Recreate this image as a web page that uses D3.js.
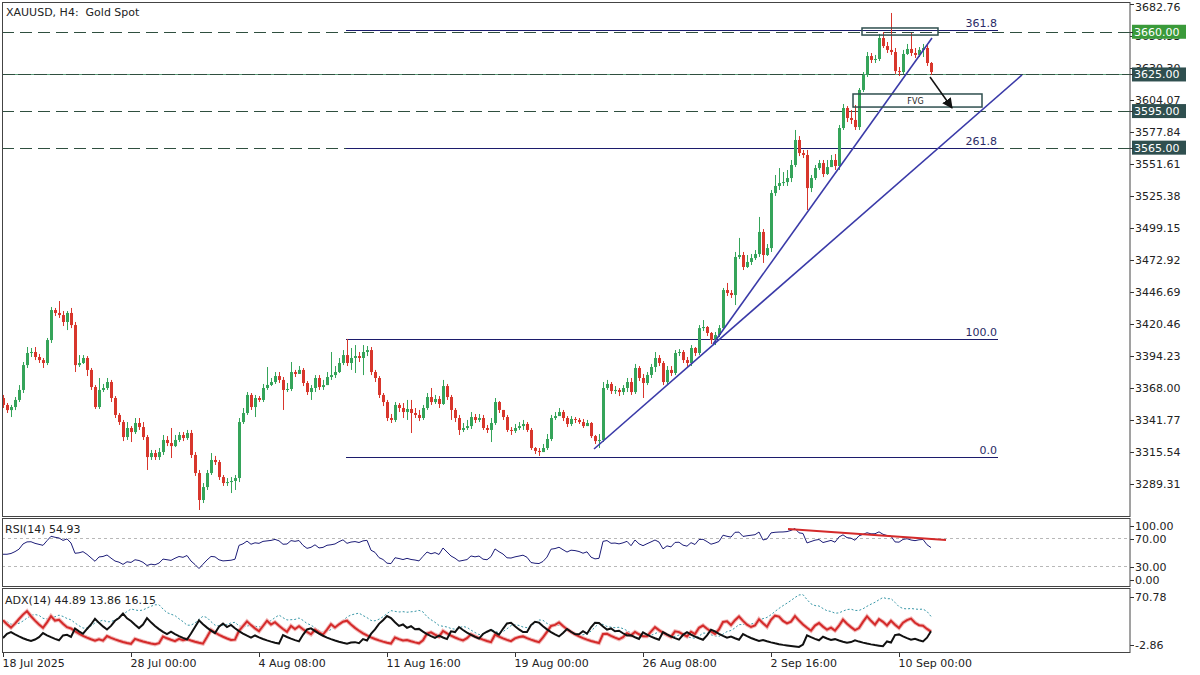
<!DOCTYPE html>
<html>
  <head>
    <title>XAUUSD H4</title>
    <script src="https://d3js.org/d3.v7.min.js"></script>
    <style>
      body { margin: 0; background: #fff; }
      svg text { font-family: "DejaVu Sans", sans-serif; font-size: 11px; fill: #222; }
    </style>
  </head>
  <body>
    <div id="chart"></div>
    <script>
      // ---- data (H4 bars from 18 Jul 16:00 to 11 Sep 08:00) ----
      const firstOpen = 3359.8;
      const closes = [
        3354.1, 3349.9, 3352.4, 3358.2, 3366.4, 3386.8, 3396.7, 3397.5, 3393.4, 3390.9,
        3388.5, 3407.3, 3431.9, 3429.5, 3427.8, 3422.1, 3429.5, 3419.6, 3386.8, 3388.5,
        3392.6, 3382.8, 3368.8, 3352.4, 3366.4, 3368.0, 3372.9, 3359.8, 3345.9, 3340.1,
        3327.8, 3335.2, 3331.9, 3339.3, 3336.0, 3327.8, 3311.4, 3314.7, 3311.4, 3315.5,
        3325.4, 3322.9, 3320.4, 3325.4, 3329.5, 3327.0, 3331.1, 3313.1, 3298.3, 3276.2,
        3286.8, 3298.3, 3309.0, 3307.3, 3295.0, 3290.1, 3290.9, 3291.8, 3294.2, 3340.1,
        3347.5, 3362.3, 3352.4, 3359.8, 3358.2, 3368.0, 3370.5, 3372.9, 3377.8, 3374.6,
        3366.4, 3367.2, 3381.1, 3379.5, 3382.8, 3372.1, 3364.7, 3368.0, 3376.2, 3368.8,
        3370.4, 3377.0, 3378.6, 3381.1, 3388.5, 3395.0, 3388.5, 3392.6, 3394.2, 3392.6,
        3397.5, 3399.1, 3381.1, 3376.2, 3362.3, 3356.5, 3343.4, 3341.8, 3354.1, 3351.6,
        3348.3, 3350.8, 3347.5, 3345.9, 3343.4, 3351.6, 3360.6, 3356.5, 3359.0, 3354.9,
        3369.6, 3360.6, 3350.0, 3343.4, 3333.6, 3335.2, 3336.8, 3344.2, 3341.8, 3343.4,
        3335.2, 3333.6, 3339.3, 3356.5, 3350.0, 3344.2, 3333.6, 3332.8, 3335.2, 3336.8,
        3338.5, 3333.6, 3318.8, 3316.4, 3315.5, 3318.8, 3326.2, 3343.4, 3345.0, 3348.3,
        3343.4, 3338.5, 3342.6, 3341.8, 3340.1, 3336.8, 3339.3, 3328.6, 3324.5, 3325.4,
        3368.0, 3371.3, 3365.5, 3366.4, 3364.7, 3368.0, 3372.9, 3364.7, 3384.4, 3376.2,
        3372.1, 3378.7, 3385.2, 3392.6, 3388.5, 3372.9, 3382.8, 3380.3, 3396.7, 3397.5,
        3390.9, 3388.5, 3400.8, 3396.7, 3417.1, 3418.0, 3413.1, 3407.3, 3411.4, 3417.1,
        3448.3, 3445.9, 3444.2, 3475.4, 3477.0, 3467.2, 3471.3, 3474.5, 3477.8, 3495.9,
        3477.0, 3482.7, 3527.8, 3533.6, 3536.0, 3536.8, 3540.1, 3550.8, 3571.3, 3560.6,
        3559.0, 3531.9, 3540.1, 3548.3, 3552.4, 3543.4, 3549.1, 3554.9, 3550.0, 3581.1,
        3597.5, 3589.3, 3587.7, 3581.9, 3612.3, 3624.6, 3640.1, 3636.9, 3637.7, 3654.9,
        3648.3, 3645.1, 3643.4, 3627.8, 3627.0, 3641.8, 3645.9, 3642.6, 3641.0, 3645.1,
        3646.7, 3634.4, 3627.0
      ];
      const highs = [
        3362.3, 3355.7, 3354.1, 3360.6, 3370.4, 3389.3, 3401.6, 3400.8, 3401.6, 3395.9,
        3392.6, 3409.0, 3434.4, 3433.6, 3439.3, 3431.1, 3431.1, 3433.6, 3422.1, 3395.0,
        3395.0, 3394.2, 3384.4, 3370.4, 3376.2, 3371.3, 3376.2, 3374.6, 3361.4, 3347.5,
        3341.8, 3340.1, 3336.8, 3343.4, 3343.4, 3340.1, 3329.5, 3317.2, 3317.2, 3318.8,
        3329.5, 3328.6, 3335.2, 3329.5, 3331.9, 3331.9, 3333.6, 3333.6, 3315.5, 3300.8,
        3290.1, 3300.8, 3314.7, 3312.3, 3309.0, 3296.7, 3294.2, 3295.0, 3296.7, 3343.4,
        3351.6, 3364.7, 3363.9, 3362.3, 3361.4, 3371.3, 3385.2, 3376.2, 3381.1, 3381.1,
        3377.0, 3372.1, 3389.3, 3382.8, 3386.0, 3384.4, 3373.7, 3370.4, 3378.6, 3378.6,
        3374.6, 3381.1, 3397.5, 3386.0, 3392.6, 3399.1, 3408.2, 3400.8, 3403.2, 3397.5,
        3403.2, 3402.4, 3401.6, 3382.8, 3377.8, 3363.9, 3358.2, 3346.7, 3356.5, 3355.7,
        3355.7, 3358.2, 3358.2, 3351.6, 3350.0, 3354.1, 3363.9, 3368.0, 3362.3, 3361.4,
        3374.6, 3371.3, 3362.3, 3351.6, 3345.9, 3339.3, 3341.8, 3348.3, 3346.7, 3346.7,
        3345.9, 3337.7, 3343.4, 3359.8, 3357.3, 3350.0, 3345.9, 3336.0, 3338.5, 3340.1,
        3341.8, 3340.1, 3335.2, 3319.6, 3318.8, 3322.1, 3330.3, 3345.9, 3348.3, 3351.6,
        3350.0, 3345.0, 3345.0, 3344.2, 3343.4, 3342.6, 3341.8, 3340.1, 3329.5, 3330.3,
        3372.9, 3374.6, 3372.9, 3369.6, 3368.0, 3370.4, 3376.2, 3376.2, 3387.7, 3386.0,
        3379.5, 3381.1, 3387.7, 3397.5, 3395.0, 3390.1, 3386.0, 3386.0, 3399.1, 3399.9,
        3399.1, 3393.4, 3403.2, 3401.6, 3419.6, 3423.7, 3418.8, 3413.9, 3413.9, 3419.6,
        3450.0, 3454.1, 3448.3, 3479.5, 3491.0, 3479.5, 3477.0, 3477.8, 3481.1, 3508.2,
        3498.3, 3486.0, 3530.3, 3542.6, 3548.3, 3545.0, 3546.7, 3554.9, 3579.5, 3574.5,
        3563.1, 3563.1, 3542.6, 3550.8, 3554.9, 3554.9, 3554.9, 3559.0, 3559.8, 3583.6,
        3600.8, 3599.1, 3595.9, 3600.0, 3613.9, 3627.0, 3643.4, 3642.6, 3641.0, 3658.2,
        3659.8, 3651.6, 3675.4, 3646.7, 3631.1, 3645.1, 3650.0, 3659.0, 3646.7, 3647.5,
        3650.0, 3649.1, 3635.2
      ];
      const lows = [
        3351.6, 3347.5, 3344.2, 3349.9, 3356.5, 3363.9, 3384.4, 3393.4, 3390.9, 3388.5,
        3384.4, 3386.8, 3404.9, 3427.0, 3425.4, 3418.8, 3415.5, 3417.1, 3381.1, 3385.2,
        3387.7, 3377.8, 3366.4, 3350.8, 3350.8, 3364.7, 3366.4, 3356.5, 3343.4, 3337.7,
        3324.5, 3325.4, 3323.7, 3330.3, 3333.6, 3325.4, 3300.8, 3309.0, 3309.0, 3309.0,
        3313.1, 3320.4, 3310.6, 3319.6, 3323.7, 3324.5, 3325.4, 3310.6, 3295.9, 3268.0,
        3273.7, 3284.4, 3296.7, 3304.9, 3292.6, 3287.7, 3287.7, 3281.9, 3284.4, 3290.9,
        3338.5, 3345.9, 3350.0, 3344.2, 3356.5, 3356.5, 3366.4, 3369.6, 3371.3, 3372.1,
        3350.0, 3364.7, 3365.5, 3377.0, 3379.5, 3369.6, 3362.3, 3358.2, 3364.7, 3366.4,
        3366.4, 3370.4, 3374.6, 3376.2, 3380.3, 3386.8, 3386.0, 3382.8, 3380.3, 3389.3,
        3378.6, 3394.2, 3378.6, 3372.9, 3359.8, 3353.2, 3340.9, 3339.3, 3340.1, 3348.3,
        3343.4, 3341.8, 3331.1, 3343.4, 3340.9, 3341.8, 3350.0, 3354.1, 3354.9, 3351.6,
        3354.1, 3358.2, 3341.8, 3340.1, 3329.5, 3331.9, 3333.6, 3334.4, 3339.3, 3340.1,
        3333.6, 3331.1, 3323.7, 3337.7, 3347.5, 3341.8, 3331.9, 3329.5, 3331.1, 3333.6,
        3333.6, 3331.9, 3317.2, 3313.9, 3312.3, 3315.5, 3317.2, 3324.5, 3341.8, 3345.0,
        3340.9, 3336.0, 3336.8, 3339.3, 3338.5, 3335.2, 3336.8, 3327.0, 3322.1, 3318.8,
        3323.7, 3366.4, 3363.1, 3363.1, 3361.4, 3362.3, 3364.7, 3362.3, 3363.1, 3373.7,
        3359.8, 3370.4, 3376.2, 3381.1, 3386.0, 3370.4, 3371.3, 3377.8, 3378.6, 3394.2,
        3388.5, 3385.2, 3386.0, 3394.2, 3395.0, 3414.7, 3410.6, 3404.0, 3403.2, 3409.8,
        3415.5, 3443.4, 3441.8, 3436.0, 3473.7, 3464.7, 3466.4, 3468.8, 3472.9, 3475.4,
        3470.5, 3476.2, 3479.5, 3525.4, 3530.3, 3533.6, 3533.6, 3536.8, 3549.1, 3558.1,
        3556.5, 3513.9, 3528.6, 3538.5, 3546.7, 3540.9, 3542.6, 3550.0, 3546.7, 3546.7,
        3579.5, 3586.0, 3584.4, 3579.5, 3579.5, 3610.6, 3622.9, 3634.4, 3634.4, 3636.0,
        3646.7, 3642.6, 3641.0, 3625.4, 3623.7, 3625.4, 3641.0, 3640.1, 3638.5, 3639.3,
        3639.3, 3632.0, 3624.6
      ];

      // axis labels
      const timeTicks = [0, 32, 64, 96, 128, 160, 192, 224];
      const timeLabels = ["18 Jul 2025", "28 Jul 00:00", "4 Aug 08:00", "11 Aug 16:00",
        "19 Aug 00:00", "26 Aug 08:00", "2 Sep 16:00", "10 Sep 00:00"];
      const priceTicks = [3682.76, 3656.53, 3630.30, 3604.07, 3577.84, 3551.61, 3525.38,
        3499.15, 3472.92, 3446.69, 3420.46, 3394.23, 3368.00, 3341.77, 3315.54, 3289.31];
      const rsiTicks = [100, 70, 30, 0];
      const rsiTickLabels = ["100.00", "70.00", "30.00", "0.00"];
      const adxTickLabels = ["70.78", "-2.86"];

      // horizontal levels and price tags
      const levels = [3660, 3625, 3595, 3565];
      const levelTagColors = ["#3a9a3a", "#2f4f4f", "#2f4f4f", "#2f4f4f"];

      // fibonacci (0 = 19 Aug low, 100 = 8 Aug high)
      const fibLow = 3311.4, fibHigh = 3408.2;
      const fibLevels = [0, 100, 261.8, 361.8];
      const fibLabels = ["0.0", "100.0", "261.8", "361.8"];
      const fibSpan = [85.75, 248.75];

      // trend lines [bar, price]
      const trendLines = [
        [[147.75, 3318.0], [254.75, 3624.6]],
        [[177.5, 3404.1], [232.25, 3654.9]]
      ];
      const topBox = [[214.75, 3663.1], [233.75, 3657.3]];
      const fvgBox = [[212.5, 3609.0], [244.75, 3598.3]];
      const arrowPts = [[231.75, 3622.9], [237.25, 3597.5]];
      const rsiTrend = [[196.25, 82.9], [235.75, 67.1]];

      // ---- indicators computed from the bars ----
      const opens = closes.map((c, i) => (i === 0 ? firstOpen : closes[i - 1]));
      const n = closes.length;
      const P = 14;

      // RSI(14), Wilder smoothing, warm-up averages taken over the first 28 moves
      const rsi = new Array(n);
      let g0 = 0, l0 = 0;
      for (let i = 1; i <= 2 * P; i++) {
        const d = closes[i] - closes[i - 1];
        g0 += Math.max(d, 0) / (2 * P);
        l0 += Math.max(-d, 0) / (2 * P);
      }
      for (let i = 1; i < n; i++) {
        const d = closes[i] - closes[i - 1];
        g0 = (g0 * (P - 1) + Math.max(d, 0)) / P;
        l0 = (l0 * (P - 1) + Math.max(-d, 0)) / P;
        rsi[i] = l0 === 0 ? 100 : 100 - 100 / (1 + g0 / l0);
      }
      rsi[0] = rsi[1];

      // ADX(14), MetaTrader style (per bar DI, exponential smoothing)
      const hiA = highs.map((h, i) => Math.max(h, opens[i], closes[i]));
      const loA = lows.map((l, i) => Math.min(l, opens[i], closes[i]));
      const pS = [0], mS = [0];
      for (let i = 1; i < n; i++) {
        let pdm = Math.max(hiA[i] - hiA[i - 1], 0);
        let mdm = Math.max(loA[i - 1] - loA[i], 0);
        if (pdm === mdm) { pdm = 0; mdm = 0; }
        else if (pdm < mdm) pdm = 0;
        else mdm = 0;
        const tr = Math.max(hiA[i] - loA[i], Math.abs(hiA[i] - closes[i - 1]), Math.abs(loA[i] - closes[i - 1]));
        pS.push(tr === 0 ? 0 : (100 * pdm) / tr);
        mS.push(tr === 0 ? 0 : (100 * mdm) / tr);
      }
      pS[0] = d3.mean(pS.slice(1, P + 1));
      mS[0] = d3.mean(mS.slice(1, P + 1));
      const a = 2 / (P + 1);
      const pdi = [pS[0]], mdi = [mS[0]];
      for (let i = 1; i < n; i++) {
        pdi.push(pdi[i - 1] + a * (pS[i] - pdi[i - 1]));
        mdi.push(mdi[i - 1] + a * (mS[i] - mdi[i - 1]));
      }
      const dx = pdi.map((p, i) => (p + mdi[i] === 0 ? 0 : (100 * Math.abs(p - mdi[i])) / (p + mdi[i])));
      const adx = [d3.mean(dx.slice(0, 2 * P))];
      for (let i = 1; i < n; i++) adx.push(adx[i - 1] + a * (dx[i] - adx[i - 1]));

      // ---- layout ----
      const W = 1200, H = 675;
      const plotRight = 1130;
      const main = { top: 2, bottom: 516 };
      const rsiP = { top: 518, bottom: 586 };
      const adxP = { top: 588, bottom: 652 };

      const svg = d3.select("#chart").append("svg")
        .attr("width", W).attr("height", H)
        .style("display", "block");

      const x = d3.scaleLinear().domain([0, 282]).range([3, 1131]);
      const y = d3.scaleLinear().domain([3368, 3682.76]).range([388, 4]);
      const yR = d3.scaleLinear().domain([0, 100]).range([587, 517]);
      const yA = d3.scaleLinear().domain([-2.86, 70.78]).range([652, 589]);

      const defs = svg.append("defs");
      [["clipMain", main], ["clipRsi", rsiP], ["clipAdx", adxP]].forEach(([id, p]) => {
        defs.append("clipPath").attr("id", id).append("rect")
          .attr("x", 2).attr("y", p.top).attr("width", plotRight - 2).attr("height", p.bottom - p.top);
      });
      defs.append("marker").attr("id", "arrowHead")
        .attr("viewBox", "0 0 10 10").attr("refX", 9).attr("refY", 5)
        .attr("markerWidth", 7).attr("markerHeight", 7).attr("orient", "auto")
        .append("path").attr("d", "M0,0 L10,5 L0,10 z").attr("fill", "#111");

      // ---- main panel ----
      const gMain = svg.append("g").attr("clip-path", "url(#clipMain)");

      // dashed horizontal levels
      levels.forEach((lv, i) => {
        const py = Math.round(y(lv)) + 0.5;
        if (i === 1) {
          gMain.append("line")
            .attr("x1", 2).attr("x2", plotRight).attr("y1", py).attr("y2", py)
            .attr("stroke", "#5f9f7c").attr("stroke-width", 1);
        }
        gMain.append("line")
          .attr("x1", 2).attr("x2", plotRight).attr("y1", py).attr("y2", py)
          .attr("stroke", "#2f4f3f").attr("stroke-width", 1)
          .attr("stroke-dasharray", i === 1 ? "13,3" : "12,6");
      });

      // fibonacci levels
      fibLevels.forEach((f, i) => {
        const py = Math.round(y(fibLow + (fibHigh - fibLow) * f / 100)) + 0.5;
        gMain.append("line")
          .attr("x1", x(fibSpan[0])).attr("x2", x(fibSpan[1]))
          .attr("y1", py).attr("y2", py)
          .attr("stroke", "#1c1c6c").attr("stroke-width", 1);
        gMain.append("text")
          .attr("x", x(fibSpan[1]) - 1).attr("y", py - 4)
          .attr("text-anchor", "end").style("fill", "#2a2a66")
          .text(fibLabels[i]);
      });

      // candles
      const candles = gMain.append("g").selectAll("g").data(closes).join("g");
      const col = (i) => (closes[i] >= opens[i] ? "#35a45a" : "#d8362c");
      candles.append("line")
        .attr("x1", (d, i) => Math.round(x(i)) + 0.5).attr("x2", (d, i) => Math.round(x(i)) + 0.5)
        .attr("y1", (d, i) => y(hiA[i]))
        .attr("y2", (d, i) => y(loA[i]))
        .attr("stroke", (d, i) => col(i)).attr("stroke-width", 1);
      candles.append("rect")
        .attr("x", (d, i) => Math.round(x(i)) - 1)
        .attr("width", 3)
        .attr("y", (d, i) => y(Math.max(opens[i], closes[i])))
        .attr("height", (d, i) => Math.max(1, Math.abs(y(opens[i]) - y(closes[i]))))
        .attr("fill", (d, i) => col(i));

      // trend lines
      trendLines.forEach((t) => {
        gMain.append("line")
          .attr("x1", x(t[0][0])).attr("y1", y(t[0][1]))
          .attr("x2", x(t[1][0])).attr("y2", y(t[1][1]))
          .attr("stroke", "#3a3aa8").attr("stroke-width", 1.6);
      });

      // boxes
      gMain.append("rect")
        .attr("x", x(topBox[0][0])).attr("y", y(topBox[0][1]))
        .attr("width", x(topBox[1][0]) - x(topBox[0][0]))
        .attr("height", y(topBox[1][1]) - y(topBox[0][1]))
        .attr("fill", "none").attr("stroke", "#2f4f4f").attr("stroke-width", 1.5);
      gMain.append("rect")
        .attr("x", x(fvgBox[0][0])).attr("y", y(fvgBox[0][1]))
        .attr("width", x(fvgBox[1][0]) - x(fvgBox[0][0]))
        .attr("height", y(fvgBox[1][1]) - y(fvgBox[0][1]))
        .attr("fill", "none").attr("stroke", "#2f4f4f").attr("stroke-width", 1.5);
      gMain.append("text")
        .attr("x", (x(fvgBox[0][0]) + x(fvgBox[1][0])) / 2 - 2)
        .attr("y", (y(fvgBox[0][1]) + y(fvgBox[1][1])) / 2 + 3)
        .attr("text-anchor", "middle").style("font-size", "8px")
        .text("FVG");
      gMain.append("line")
        .attr("x1", x(arrowPts[0][0])).attr("y1", y(arrowPts[0][1]))
        .attr("x2", x(arrowPts[1][0])).attr("y2", y(arrowPts[1][1]))
        .attr("stroke", "#111").attr("stroke-width", 1.5)
        .attr("marker-end", "url(#arrowHead)");

      svg.append("text").attr("x", 6).attr("y", 16)
        .attr("xml:space", "preserve").style("white-space", "pre")
        .text("XAUUSD, H4:  Gold Spot");

      // price axis (two labels sit behind the level tags, as in the terminal)
      const axP = svg.append("g").attr("transform", `translate(${plotRight},0)`)
        .call(d3.axisRight(y).tickValues(priceTicks).tickSize(4).tickPadding(1)
          .tickFormat((d) => d.toFixed(2)));
      axP.select(".domain").remove();
      axP.selectAll("text").style("font-family", "DejaVu Sans").style("font-size", "11px").attr("fill", "#222");
      axP.selectAll("line").attr("stroke", "#333");
      axP.selectAll(".tick").filter((d) => d === priceTicks[0]).select("text").attr("dy", "0.55em");

      levels.forEach((lv, i) => {
        const py = y(lv);
        svg.append("rect").attr("x", plotRight + 2).attr("y", py - 7)
          .attr("width", 54).attr("height", 14).attr("fill", levelTagColors[i]);
        svg.append("text").attr("x", plotRight + 4).attr("y", py + 4)
          .style("fill", "#fff").text(lv.toFixed(2));
        svg.append("line").attr("x1", plotRight).attr("x2", plotRight + 3)
          .attr("y1", Math.round(py) + 0.5).attr("y2", Math.round(py) + 0.5).attr("stroke", "#333");
      });

      // ---- RSI panel ----
      const gR = svg.append("g").attr("clip-path", "url(#clipRsi)");
      [70, 30].forEach((lv) => {
        gR.append("line").attr("x1", 2).attr("x2", plotRight)
          .attr("y1", Math.round(yR(lv)) + 0.5).attr("y2", Math.round(yR(lv)) + 0.5)
          .attr("stroke", "#b8b8b8").attr("stroke-dasharray", "3,3");
      });
      gR.append("path").datum(rsi)
        .attr("fill", "none").attr("stroke", "#1d1d78").attr("stroke-width", 1)
        .attr("d", d3.line().x((d, i) => x(i)).y((d) => yR(d)));
      gR.append("line")
        .attr("x1", x(rsiTrend[0][0])).attr("y1", yR(rsiTrend[0][1]))
        .attr("x2", x(rsiTrend[1][0])).attr("y2", yR(rsiTrend[1][1]))
        .attr("stroke", "#d42a2a").attr("stroke-width", 2);
      svg.append("text").attr("x", 5).attr("y", 533).text("RSI(14) 54.93");

      const rsiLabelY = [526, 539, 567, 580];
      rsiTicks.forEach((t, i) => {
        svg.append("line").attr("x1", plotRight).attr("x2", plotRight + 4)
          .attr("y1", rsiLabelY[i] + 0.5).attr("y2", rsiLabelY[i] + 0.5).attr("stroke", "#333");
        svg.append("text").attr("x", plotRight + 5).attr("y", rsiLabelY[i] + 4).text(rsiTickLabels[i]);
      });

      // ---- ADX panel ----
      const gA = svg.append("g").attr("clip-path", "url(#clipAdx)");
      const lineA = d3.line().x((d, i) => x(i)).y((d) => yA(d));
      gA.append("path").datum(adx).attr("fill", "none")
        .attr("stroke", "#3a98a8").attr("stroke-width", 1).attr("stroke-dasharray", "2,2")
        .attr("d", lineA);
      gA.append("path").datum(pdi).attr("fill", "none")
        .attr("stroke", "#f2b8b8").attr("stroke-width", 4).attr("d", lineA);
      gA.append("path").datum(pdi).attr("fill", "none")
        .attr("stroke", "#d42a2a").attr("stroke-width", 2).attr("d", lineA);
      gA.append("path").datum(mdi).attr("fill", "none")
        .attr("stroke", "#111").attr("stroke-width", 2).attr("d", lineA);
      svg.append("text").attr("x", 5).attr("y", 604).text("ADX(14) 44.89 13.86 16.15");

      const adxLabelY = [597, 645];
      adxTickLabels.forEach((t, i) => {
        svg.append("line").attr("x1", plotRight).attr("x2", plotRight + 4)
          .attr("y1", adxLabelY[i] + 0.5).attr("y2", adxLabelY[i] + 0.5).attr("stroke", "#333");
        svg.append("text").attr("x", plotRight + 5).attr("y", adxLabelY[i] + 4).text(t);
      });

      // ---- frames ----
      [main, rsiP, adxP].forEach((p) => {
        svg.append("rect").attr("x", 2.5).attr("y", p.top + 0.5)
          .attr("width", plotRight - 2.5).attr("height", p.bottom - p.top)
          .attr("fill", "none").attr("stroke", "#444").attr("stroke-width", 1);
      });

      // time axis
      const axT = svg.append("g").attr("transform", `translate(0,${adxP.bottom + 1})`)
        .call(d3.axisBottom(x).tickValues(timeTicks).tickSize(4).tickPadding(2)
          .tickFormat((d, i) => timeLabels[i]));
      axT.select(".domain").remove();
      axT.selectAll("line").attr("stroke", "#333");
      axT.selectAll("text").attr("text-anchor", "start").attr("dx", -1)
        .style("font-family", "DejaVu Sans").style("font-size", "11px").attr("fill", "#222");
    </script>
  </body>
</html>
